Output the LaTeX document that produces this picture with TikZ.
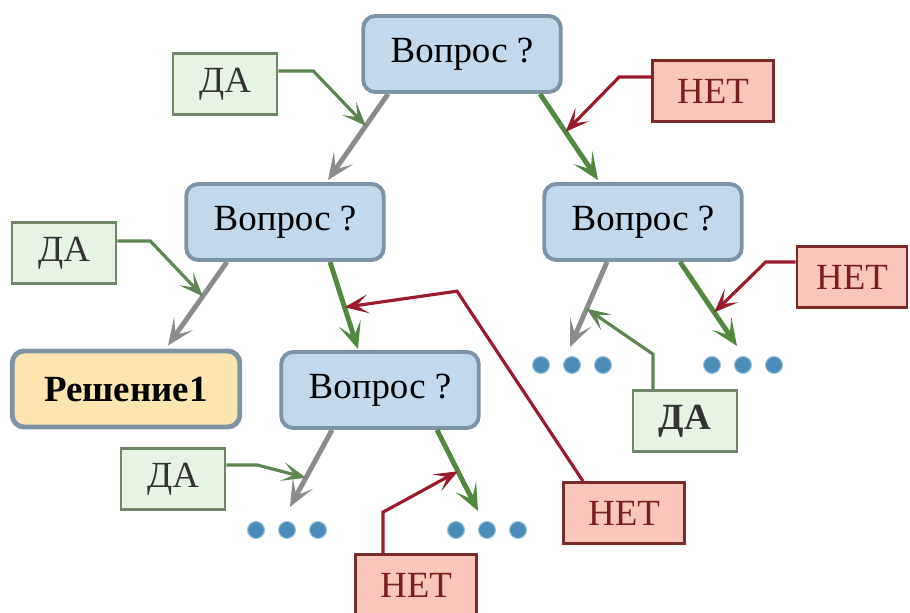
\documentclass[tikz,border=0pt]{standalone}
\usepackage{fontspec}
\setmainfont{Liberation Serif}
\usetikzlibrary{arrows.meta,positioning,calc}

\definecolor{qfill}{HTML}{C2D9EC}
\definecolor{qdraw}{HTML}{7E93A6}
\definecolor{sfill}{HTML}{FDE5AF}
\definecolor{yfill}{HTML}{E7F3E3}
\definecolor{ydraw}{HTML}{6F8668}
\definecolor{nfill}{HTML}{FAC6BC}
\definecolor{ndraw}{HTML}{7A2A2A}
\definecolor{ntext}{HTML}{7B1E1E}
\definecolor{armgray}{HTML}{8C8C8C}
\definecolor{armgreen}{HTML}{4F8A3F}
\definecolor{callgreen}{HTML}{5C8550}
\definecolor{callred}{HTML}{9A1C2C}
\definecolor{blobfill}{HTML}{4B8DB9}
\definecolor{blobdraw}{HTML}{9DC3DD}

\begin{document}
\begin{tikzpicture}[x=0.2mm,y=-0.2mm,
    every node/.style={font=\fontsize{21}{24}\selectfont},
    question/.style={draw=qdraw,fill=qfill,line width=2.2pt,rounded corners=2.4mm,
      minimum width=39.5mm,minimum height=15.2mm,inner sep=0pt},
    solution/.style={question,fill=sfill,line width=2.8pt,minimum width=45.5mm,font=\fontsize{21}{24}\selectfont\bfseries},
    yesbox/.style={draw=ydraw,fill=yfill,line width=1.5pt,minimum width=20.8mm,minimum height=12.2mm,inner sep=0pt,text=black!80},
    nobox/.style={draw=ndraw,fill=nfill,line width=1.5pt,minimum width=24.2mm,minimum height=12.2mm,inner sep=0pt,text=ntext},
    blob/.style={circle,fill=blobfill,draw=blobdraw,line width=0.6pt,minimum size=3.4mm,inner sep=0pt},
    yesedge/.style={draw=armgray,line width=2.8pt,-{Stealth[length=5.4mm,width=4.6mm,inset=2.8mm]}},
    noedge/.style={yesedge,draw=armgreen},
    yescall/.style={draw=callgreen,line width=1.8pt,-{Stealth[length=4.8mm,width=3.8mm,inset=2.4mm]}},
    nocall/.style={yescall,draw=callred}]

\useasboundingbox (0,0) rectangle (910,613);

% questions
\node [question] (q0) at (462,54) {Вопрос ?};
\node [question] (q1) at (285,222) {Вопрос ?};
\node [question] (q2) at (643,222) {Вопрос ?};
\node [question] (q3) at (380,390) {Вопрос ?};
\node [solution] (res) at (126,389) {Решение1};

% dots
\foreach \g/\x/\y in {ya/572/365, na/743/365, yb/287/530, nb/487/530}
  \foreach \k in {1,2,3}
    \node [blob] (\g\k) at ({\x+31*(\k-2)},\y) {};

% labels
\node [yesbox] (da0) at (225,84) {ДА};
\node [nobox] (no0) at (713,91) {НЕТ};
\node [yesbox] (da1) at (64,253) {ДА};
\node [nobox] (no1) at (624,513) {НЕТ};
\node [yesbox,font=\fontsize{21}{24}\selectfont\bfseries] (da2) at (685,421) {ДА};
\node [nobox,minimum width=22mm] (no2) at (852,277) {НЕТ};
\node [yesbox] (da3) at (173,479) {ДА};
\node [nobox] (no3) at (416,585) {НЕТ};

% tree
\draw [yesedge] ($(q0.south)+(-74,0)$) -- coordinate[pos=0.37] (c1) ($(q1.north)+(43,-2)$);
\draw [noedge] ($(q0.south)+(78,0)$) -- coordinate[pos=0.44] (c2) ($(q2.north)+(-45,-2)$);
\draw [yesedge] ($(q1.south)+(-58,0)$) -- coordinate[pos=0.41] (c3) ($(res.north)+(42,-3)$);
\draw [noedge] ($(q1.south)+(45,0)$) -- coordinate[pos=0.52] (c4) ($(q3.north)+(-22,-1)$);
\draw [yesedge] ($(q2.south)+(-36,0)$) -- coordinate[pos=0.55] (c5) ($(ya2.north)+(-2,-9)$);
\draw [noedge] ($(q2.south)+(37,0)$) -- coordinate[pos=0.6] (c6) ($(na2.north)+(-6,-10)$);
\draw [yesedge] ($(q3.south)+(-48,0)$) -- coordinate[pos=0.62] (c7) ($(yb2.north)+(3,-14)$);
\draw [noedge] ($(q3.south)+(57,0)$) -- coordinate[pos=0.51] (c8) ($(nb2.north)+(-9,-10)$);

% callouts
\draw [yescall] ($(da0.east)+(0,-13)$) -- ++(35,0) -- (c1);
\draw [nocall] ($(no0.west)+(0,-14)$) -- ++(-32,0) -- (c2);
\draw [yescall] ($(da1.east)+(0,-12)$) -- ++(33,0) -- (c3);
\draw [nocall] ($(no1.north)+(-41,0)$) -- ++(-126,-190) -- (c4);
\draw [yescall] ($(da2.north)+(-32,0)$) -- ++(0,-35) -- (c5);
\draw [nocall] ($(no2.west)+(0,-15)$) -- ++(-30,0) -- (c6);
\draw [yescall] ($(da3.east)+(0,-14)$) -- ++(31,0) -- (c7);
\draw [nocall] ($(no3.north)+(-33,0)$) -- ++(0,-41) -- (c8);

\end{tikzpicture}
\end{document}
